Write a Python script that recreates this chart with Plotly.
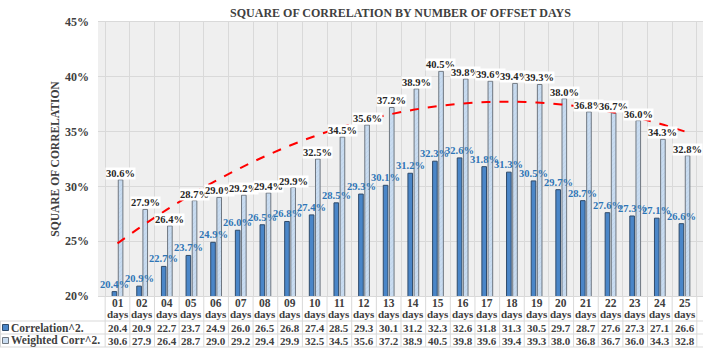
import numpy as np
import plotly.graph_objects as go

# ---------------- data ----------------
day_labels = ["01", "02", "04", "05", "06", "07", "08", "09", "10", "11", "12", "13",
              "14", "15", "16", "17", "18", "19", "20", "21", "22", "23", "24", "25"]
day_unit = "days"
corr_sq = [20.4, 20.9, 22.7, 23.7, 24.9, 26.0, 26.5, 26.8, 27.4, 28.5, 29.3, 30.1,
           31.2, 32.3, 32.6, 31.8, 31.3, 30.5, 29.7, 28.7, 27.6, 27.3, 27.1, 26.6]
weighted_sq = [30.6, 27.9, 26.4, 28.7, 29.0, 29.2, 29.4, 29.9, 32.5, 34.5, 35.6, 37.2,
               38.9, 40.5, 39.8, 39.6, 39.4, 39.3, 38.0, 36.8, 36.7, 36.0, 34.3, 32.8]
series_names = ["Correlation^2.", "Weighted Corr^2."]
title_text = "SQUARE OF CORRELATION BY NUMBER OF OFFSET DAYS"
y_title = "SQUARE OF CORRELATION"

# ---------------- derived ----------------
cats = [d + " " + day_unit for d in day_labels]
c_frac = [v / 100 for v in corr_sq]
w_frac = [v / 100 for v in weighted_sq]
xi = np.arange(1, len(cats) + 1)
coef = np.polyfit(xi, np.array(w_frac), 2)   # polynomial (order 2) trendline
trend = np.polyval(coef, xi)

FONT = "Liberation Serif, Times New Roman, serif"
DARK = "#4a86c8"
LIGHT = "#c9dcf0"
TXT = "#404040"
GRID = "#d9d9d9"

# plot area geometry in px (for paper-coord helpers)
W, H = 708, 352
L, R, T, B = 98, 5, 22, 56
PW, PH = W - L - R, H - T - B


def px_x(px):
    return (px - L) / PW


def px_y(py):
    return (H - B - py) / PH


fig = go.Figure()
fig.add_trace(go.Bar(
    x=cats, y=c_frac, name=series_names[0],
    marker=dict(color=DARK, line=dict(color="#2f4b6b", width=1)),
))
fig.add_trace(go.Bar(
    x=cats, y=w_frac, name=series_names[1],
    marker=dict(color=LIGHT, line=dict(color="#6f7780", width=1),
                pattern=dict(shape="/", fgcolor="#b0c8e4", bgcolor=LIGHT, size=3, solidity=0.25)),
))
fig.add_trace(go.Scatter(
    x=cats, y=trend, mode="lines", line=dict(color="#ff0000", width=2, dash="dash", shape="spline"),
    showlegend=False,
))

annotations = []
for c, v in zip(cats, c_frac):
    annotations.append(dict(x=c, y=v, xref="x", yref="y", text=f"{v*100:.1f}%", showarrow=False,
                            yanchor="bottom", xanchor="center", xshift=-3, yshift=0,
                            font=dict(family=FONT, size=10.5, color="#2e75b6", weight="bold")))
for c, v in zip(cats, w_frac):
    annotations.append(dict(x=c, y=v, xref="x", yref="y", text=f"{v*100:.1f}%", showarrow=False,
                            yanchor="bottom", xanchor="center", xshift=3, yshift=0,
                            bgcolor="white", borderpad=0,
                            font=dict(family=FONT, size=10.5, color="#262626", weight="bold")))

# category labels (two lines)
for c, d in zip(cats, day_labels):
    annotations.append(dict(x=c, y=px_y(302.5), xref="x", yref="paper", text=d, showarrow=False,
                            yanchor="middle", xanchor="center", borderpad=0,
                            font=dict(family=FONT, size=11.5, color=TXT, weight="bold")))
    annotations.append(dict(x=c, y=px_y(313.5), xref="x", yref="paper", text=day_unit, showarrow=False,
                            yanchor="middle", xanchor="center", borderpad=0,
                            font=dict(family=FONT, size=11, color=TXT, weight="bold")))

# data table rows
row_y = [px_y(327.5), px_y(340.5)]
for vals, ry in zip([corr_sq, weighted_sq], row_y):
    for c, v in zip(cats, vals):
        annotations.append(dict(x=c, y=ry, xref="x", yref="paper", text=f"{v:.1f}", showarrow=False,
                                yanchor="middle", xanchor="center", borderpad=0,
                                font=dict(family=FONT, size=11, color=TXT, weight="bold")))
# legend keys
for name, ry in zip(series_names, row_y):
    annotations.append(dict(x=px_x(10), y=ry, xref="paper", yref="paper", text=name, showarrow=False,
                            yanchor="middle", xanchor="left", borderpad=0,
                            font=dict(family=FONT, size=11.5, color=TXT, weight="bold")))

shapes = []
for col, bcol, ry in zip([DARK, LIGHT], ["#2f4b6b", "#6f7780"], [327.5, 340.5]):
    shapes.append(dict(type="rect", xref="paper", yref="paper", x0=px_x(2.5), x1=px_x(8.5),
                       y0=px_y(ry + 3), y1=px_y(ry - 3), fillcolor=col, line=dict(color=bcol, width=1)))
# table horizontal lines
for py in [321, 334, 347]:
    shapes.append(dict(type="line", xref="paper", yref="paper", x0=px_x(0), x1=1, y0=px_y(py), y1=px_y(py),
                       line=dict(color=GRID, width=1)))
# table vertical lines
for i in range(len(cats) + 1):
    shapes.append(dict(type="line", xref="x", yref="paper", x0=i - 0.5, x1=i - 0.5, y0=0, y1=px_y(347),
                       line=dict(color=GRID, width=1)))
shapes.append(dict(type="line", xref="paper", yref="paper", x0=px_x(0.5), x1=px_x(0.5),
                   y0=px_y(321), y1=px_y(347), line=dict(color=GRID, width=1)))

fig.update_layout(
    width=W, height=H,
    margin=dict(l=L, r=R, t=T, b=B, autoexpand=False),
    paper_bgcolor="white", plot_bgcolor="#efefef",
    barmode="group", bargap=0.5, bargroupgap=0.25,
    showlegend=False,
    title=dict(text=title_text, x=(L + PW / 2) / W, xanchor="center", y=1 - 13 / H, yanchor="middle",
               font=dict(family=FONT, size=12, color=TXT, weight="bold")),
    xaxis=dict(tickson="boundaries", showticklabels=False,
               showgrid=True, gridcolor=GRID, gridwidth=1, ticks="", showline=True, linecolor=GRID,
               mirror=True, automargin=False),
    yaxis=dict(range=[0.2, 0.45], dtick=0.05, tickformat=".0%", showgrid=True, gridcolor=GRID,
               zeroline=False, showline=False, ticks="", ticklabelstandoff=8, automargin=False,
               tickfont=dict(family=FONT, size=12, color=TXT, weight="bold"),
               title=dict(text=y_title, standoff=2, font=dict(family=FONT, size=11.5, color=TXT, weight="bold"))),
    annotations=annotations, shapes=shapes,
)

fig.write_html("out.html", config={"displayModeBar": False},
               post_script="document.body.style.margin='0';document.body.style.overflow='hidden';")
